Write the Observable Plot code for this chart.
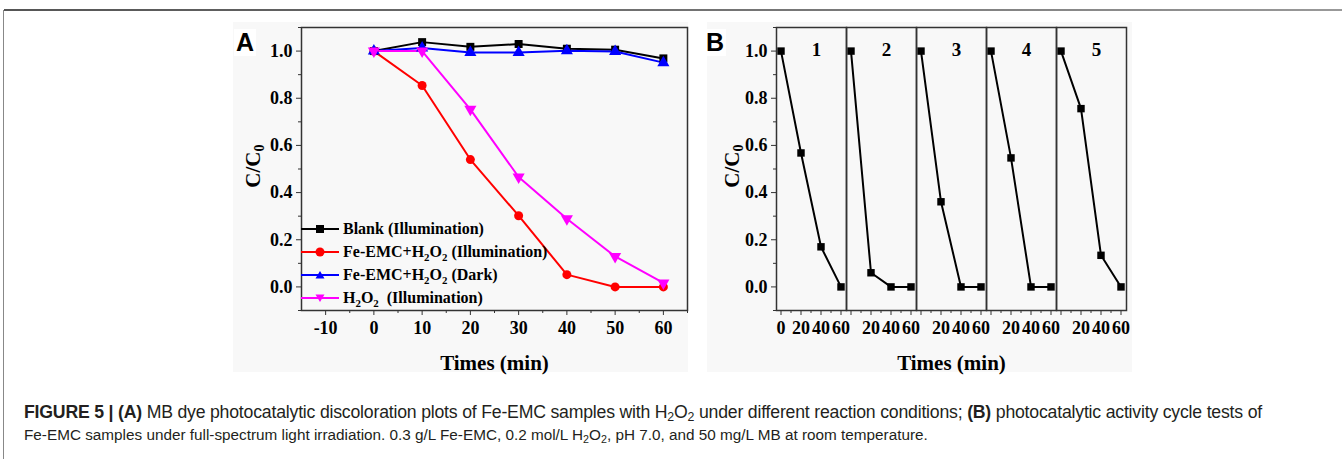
<!DOCTYPE html>
<html><head><meta charset="utf-8">
<script src="https://cdn.jsdelivr.net/npm/d3@7"></script>
<script src="https://cdn.jsdelivr.net/npm/@observablehq/plot@0.6"></script>
<style>
html,body{margin:0;padding:0;background:#fff;}
#page{position:relative;width:1342px;height:459px;overflow:hidden;font-family:"Liberation Serif","Times New Roman",serif;}
.topline{position:absolute;left:4px;top:9px;width:1338px;height:2px;background:linear-gradient(to right,#555,#777 60%,#999);}
.leftline{position:absolute;left:3px;top:10px;width:1px;height:449px;background:#888;}
.bgA{position:absolute;left:233px;top:22px;width:455px;height:350px;background:#f8f8f8;}
.bgB{position:absolute;left:707px;top:22px;width:425px;height:350px;background:#f8f8f8;}
.plot{position:absolute;top:20px;}
.letter{position:absolute;font-family:"Liberation Sans",Arial,sans-serif;font-weight:bold;font-size:25px;line-height:25px;color:#000;background:#fff;padding:1px 2px;}
.ylab{position:absolute;font-weight:bold;font-size:21px;color:#000;transform:translate(-50%,-50%) rotate(-90deg);white-space:nowrap;}
.ylab sub,.leg sub{font-size:0.68em;vertical-align:-0.35em;line-height:0;}
.leg{position:absolute;display:flex;align-items:center;font-weight:bold;font-size:16px;color:#000;white-space:nowrap;height:22px;}
.leg svg{margin-right:4px;}
#cap{position:absolute;left:24px;top:401px;font-family:"Liberation Sans",Arial,sans-serif;line-height:22px;color:#231f20;white-space:nowrap;}
#cap > div{display:inline-block;transform-origin:0 50%;}
#cap sub{font-size:0.7em;vertical-align:-0.25em;line-height:0;}
#l1{font-size:17.5px;letter-spacing:-0.2px;}
#l2{font-size:15.3px;}
</style></head>
<body>
<div id="page">
  <div class="topline"></div><div class="leftline"></div>
  <div class="bgA"></div><div class="bgB"></div>
</div>
<script>
// ---------- Panel A data ----------
const times = [0, 10, 20, 30, 40, 50, 60];
const blankIllum = [1.0, 1.038, 1.018, 1.030, 1.010, 1.006, 0.969];
const feIllum    = [1.0, 0.854, 0.540, 0.302, 0.052, 0.0, 0.0];
const feDark     = [1.0, 1.013, 0.994, 0.994, 1.001, 0.998, 0.951];
const h2o2Illum  = [1.0, 1.0, 0.753, 0.466, 0.289, 0.129, 0.017];
const seriesKeys = ["blank", "feIllum", "feDark", "h2o2"];
const seriesLabels = [
  "Blank (Illumination)",
  "Fe-EMC+H<sub>2</sub>O<sub>2</sub> (Illumination)",
  "Fe-EMC+H<sub>2</sub>O<sub>2</sub> (Dark)",
  "H<sub>2</sub>O<sub>2</sub>&nbsp; (Illumination)"
];
const seriesColors = ["#000000", "#ff0000", "#0000ff", "#ff00ff"];
const seriesSymbols = ["square", "circle", "triangle", "triangle"];
const seriesRotate = [0, 0, 0, 180];
const yTicks = [0, 0.2, 0.4, 0.6, 0.8, 1.0];
const yMinor = [-0.1, 0.1, 0.3, 0.5, 0.7, 0.9, 1.1];
const xTicksA = [-10, 0, 10, 20, 30, 40, 50, 60];
const xMinorA = [-5, 5, 15, 25, 35, 45, 55, 65];

// ---------- Panel B data ----------
const cycleTimes = [0, 20, 40, 60];
const cycleNames = [1, 2, 3, 4, 5];
const cycle1 = [1.0, 0.568, 0.170, 0.0];
const cycle2 = [1.0, 0.060, 0.0, 0.0];
const cycle3 = [1.0, 0.361, 0.0, 0.0];
const cycle4 = [1.0, 0.547, 0.0, 0.0];
const cycle5 = [1.0, 0.756, 0.134, 0.0];
const xTicksB = [20, 40, 60];
const xMinorB = [10, 30, 50];

const page = document.getElementById("page");

const seriesValues = [blankIllum, feIllum, feDark, h2o2Illum];
const dataA = [];
seriesValues.forEach((vals, i) => times.forEach((t, j) => dataA.push({s: seriesKeys[i], t, v: vals[j], rot: seriesRotate[i]})));

const fmt = d3.format(".1f");
const baseStyle = {fontFamily: "'Liberation Serif','Times New Roman',serif", fontWeight: "bold", fontSize: "18px", background: "transparent", color: "#000", overflow: "visible"};

function bigLabel(svg) {
  svg.querySelectorAll('[aria-label="x-axis label"] text').forEach(t => { t.setAttribute("font-size", "21"); t.style.fontSize = "21px"; });
}

const plotA = Plot.plot({
  width: 470, height: 355,
  marginLeft: 68, marginRight: 16, marginTop: 7, marginBottom: 65,
  x: {domain: [-15, 65]},
  y: {domain: [-0.1, 1.1]},
  color: {domain: seriesKeys, range: seriesColors},
  symbol: {domain: seriesKeys, range: seriesSymbols},
  style: baseStyle,
  marks: [
    Plot.axisY({ticks: yTicks, tickFormat: fmt, tickSize: 5, tickPadding: 4, label: null, stroke: "#333"}),
    Plot.axisY({ticks: yMinor, tickSize: 3, fill: "none", label: null, stroke: "#333"}),
    Plot.axisX({ticks: xTicksA, tickFormat: d => String(d), tickSize: 5, tickPadding: 6, stroke: "#333",
      label: "Times (min)", labelAnchor: "center", labelArrow: false, labelOffset: 59, fontSize: 18}),
    Plot.axisX({ticks: xMinorA, tickSize: 3, fill: "none", label: null, stroke: "#333"}),
    Plot.lineY(dataA, {x: "t", y: "v", z: "s", stroke: "s", strokeWidth: 2}),
    Plot.dot(dataA, {x: "t", y: "v", fill: "s", symbol: "s", rotate: "rot", r: 4.5, stroke: "none"}),
    Plot.frame({stroke: "#333", strokeWidth: 1.5})
  ]
});
bigLabel(plotA);
plotA.classList.add("plot");
plotA.style.left = "233px";
page.appendChild(plotA);

const cycleVals = [cycle1, cycle2, cycle3, cycle4, cycle5];
const dataB = [];
cycleVals.forEach((vals, i) => cycleTimes.forEach((t, j) => dataB.push({c: cycleNames[i], t, v: vals[j]})));

const plotB = Plot.plot({
  width: 424, height: 355,
  marginLeft: 69, marginRight: 5, marginTop: 7, marginBottom: 65,
  fx: {domain: cycleNames, padding: 0, axis: null},
  x: {domain: [-4.5, 65.5]},
  y: {domain: [-0.1, 1.1]},
  style: baseStyle,
  marks: [
    Plot.axisY({ticks: yTicks, tickFormat: fmt, tickSize: 5, tickPadding: 4, label: null, stroke: "#333"}),
    Plot.axisY({ticks: yMinor, tickSize: 3, fill: "none", label: null, stroke: "#333"}),
    Plot.axisX({ticks: xTicksB, tickFormat: d => String(d), tickSize: 5, tickPadding: 6, stroke: "#333",
      label: "Times (min)", labelAnchor: "center", labelArrow: false, labelOffset: 59, fontSize: 18}),
    Plot.axisX({ticks: [0], tickSize: 5, fill: "none", label: null, stroke: "#333"}),
    Plot.axisX({ticks: [0], tickSize: 0, tickPadding: 11, tickFormat: d => String(d), label: null, facetAnchor: "left", fontSize: 18}),
    Plot.axisX({ticks: xMinorB, tickSize: 3, fill: "none", label: null, stroke: "#333"}),
    Plot.lineY(dataB, {fx: "c", x: "t", y: "v", stroke: "#000", strokeWidth: 2}),
    Plot.dot(dataB, {fx: "c", x: "t", y: "v", fill: "#000", symbol: "square", r: 4.2}),
    Plot.text(cycleNames, {fx: d => d, text: d => String(d), frameAnchor: "top", dy: 15, dx: 5, fontSize: 19, fontWeight: "bold"}),
    Plot.frame({stroke: "#333", strokeWidth: 1.5})
  ]
});
bigLabel(plotB);
plotB.classList.add("plot");
plotB.style.left = "707px";
page.appendChild(plotB);

// Panel letters and y labels
function addEl(cls, html, left, top) {
  const el = document.createElement("div");
  el.className = cls; el.innerHTML = html;
  el.style.left = left + "px"; el.style.top = top + "px";
  page.appendChild(el); return el;
}
addEl("letter", "A", 234, 29);
addEl("letter", "B", 704, 29);
addEl("ylab", "C/C<sub>0</sub>", 253, 166);
addEl("ylab", "C/C<sub>0</sub>", 732, 166);

// Legend for panel A
seriesKeys.forEach((k, i) => {
  const sym = seriesSymbols[i];
  let shape;
  if (sym === "square") shape = `<rect x="15" y="2" width="8" height="8" fill="${seriesColors[i]}"/>`;
  else if (sym === "circle") shape = `<circle cx="19" cy="6" r="4.5" fill="${seriesColors[i]}"/>`;
  else if (seriesRotate[i] === 180) shape = `<path d="M14.5,2.5 L23.5,2.5 L19,10 Z" fill="${seriesColors[i]}"/>`;
  else shape = `<path d="M14.5,9.5 L23.5,9.5 L19,2 Z" fill="${seriesColors[i]}"/>`;
  const svg = `<svg width="38" height="12" viewBox="0 0 38 12"><line x1="0" y1="6" x2="38" y2="6" stroke="${seriesColors[i]}" stroke-width="2"/>${shape}</svg>`;
  addEl("leg", svg + "<span>" + seriesLabels[i] + "</span>", 301, 218 + i * 23);
});

// Caption
const cap = document.createElement("div");
cap.id = "cap";
cap.innerHTML = '<div id="l1"><b>FIGURE 5 | (A)</b> MB dye photocatalytic discoloration plots of Fe-EMC samples with H<sub>2</sub>O<sub>2</sub> under different reaction conditions; <b>(B)</b> photocatalytic activity cycle tests of</div><br>' +
  '<div id="l2">Fe-EMC samples under full-spectrum light irradiation. 0.3 g/L Fe-EMC, 0.2 mol/L H<sub>2</sub>O<sub>2</sub>, pH 7.0, and 50 mg/L MB at room temperature.</div>';
page.appendChild(cap);
// fit line 1 to the width it spans in the figure
const l1 = document.getElementById("l1");
const w1 = l1.getBoundingClientRect().width;
l1.style.transform = `scaleX(${1238 / w1})`;
</script>
</body></html>
